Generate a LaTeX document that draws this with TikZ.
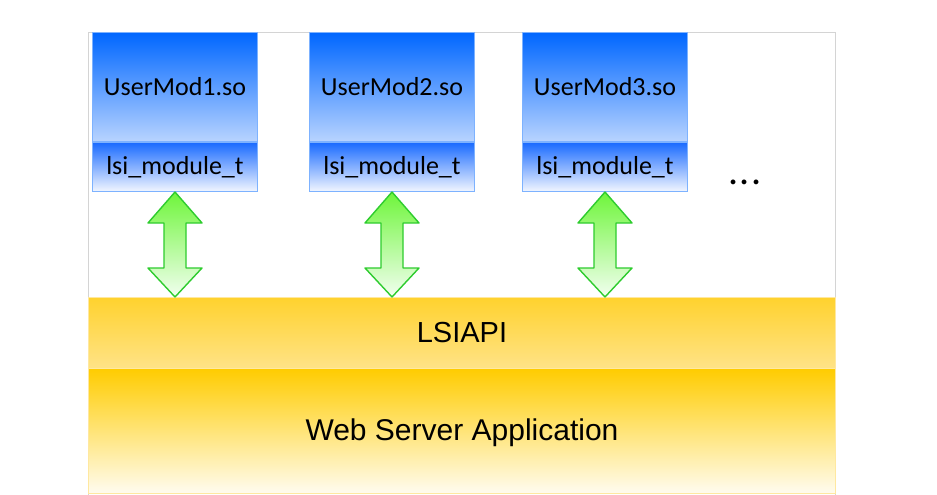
\documentclass[tikz,border=0pt]{standalone}
\usepackage{fontspec}
\setmainfont{Liberation Sans}
\newfontfamily\calfont{Carlito}
\usetikzlibrary{calc}
\definecolor{frameg}{HTML}{D4D4D4}
\definecolor{bluetop}{HTML}{0066FF}
\definecolor{bluebot}{HTML}{B8D4FF}
\definecolor{lsitop}{HTML}{1A6BFF}
\definecolor{lsibot}{HTML}{F2F6FF}
\definecolor{blueedge}{HTML}{7DB2FF}
\definecolor{apitop}{HTML}{FFD22E}
\definecolor{apibot}{HTML}{FFE387}
\definecolor{webtop}{HTML}{FFCC00}
\definecolor{webbot}{HTML}{FFFCF0}
\definecolor{bandedge}{HTML}{FFE8A0}
\definecolor{grtop}{HTML}{6EF53A}
\definecolor{grbot}{HTML}{F2FFF0}
\definecolor{gredge}{HTML}{2ECC2E}
\tikzset{
  modtop/.style={draw=blueedge, line width=1pt, top color=bluetop, bottom color=bluebot,
    minimum width=165pt, minimum height=109pt, inner sep=0pt, anchor=north west,
    font=\calfont\fontsize{26}{30}\selectfont},
  modlsi/.style={draw=blueedge, line width=1pt, top color=lsitop, bottom color=lsibot,
    minimum width=165pt, minimum height=49pt, inner sep=0pt, anchor=north,
    font=\calfont\fontsize{26}{30}\selectfont},
  band/.style={draw=bandedge, line width=1pt, minimum width=747pt, inner sep=0pt,
    anchor=north west, font=\fontsize{29}{34}\selectfont},
  dblarrow/.style={draw=gredge, line width=1.4pt, line join=round, top color=grtop, bottom color=grbot}
}
\begin{document}
\begin{tikzpicture}[x=1pt,y=-1pt]
\useasboundingbox[fill=white] (0,0) rectangle (937,495);
% outer frame
\draw[frameg, line width=1pt] (88,500) -- (88,32.5) -- (835,32.5) -- (835,500);
% bands
\node[band, top color=apitop, bottom color=apibot, minimum height=71pt] (api) at (88,297) {LSIAPI};
\node[band, top color=webtop, bottom color=webbot, minimum height=125pt] (web) at (88,368) {};
\node at ($(web.center)+(0,2)$) [font=\fontsize{30}{35}\selectfont] (webtxt) {Web Server Application};
% modules
\node[modtop] (m1) at (92,32) {UserMod1.so};
\node[modlsi] (l1) at (m1.south) {lsi\_module\_t};
\node[modtop] (m2) at (309,32) {UserMod2.so};
\node[modlsi] (l2) at (m2.south) {lsi\_module\_t};
\node[modtop] (m3) at (522,32) {UserMod3.so};
\node[modlsi] (l3) at (m3.south) {lsi\_module\_t};
\node[font=\calfont\fontsize{40}{44}\selectfont, anchor=base] (dots) at (745,184) {.\hspace{1.5pt}.\hspace{1.5pt}.};
% double arrows
\foreach \i in {1,2,3}{
  \coordinate (T\i) at (l\i.south);
  \coordinate (B\i) at (l\i.south |- api.north);
  \path[dblarrow] (T\i) -- ($(T\i)+(27,31)$) -- ($(T\i)+(11,31)$) -- ($(B\i)+(11,-29)$)
    -- ($(B\i)+(27,-29)$) -- (B\i) -- ($(B\i)+(-27,-29)$) -- ($(B\i)+(-11,-29)$)
    -- ($(T\i)+(-11,31)$) -- ($(T\i)+(-27,31)$) -- cycle;
}
\end{tikzpicture}
\end{document}
